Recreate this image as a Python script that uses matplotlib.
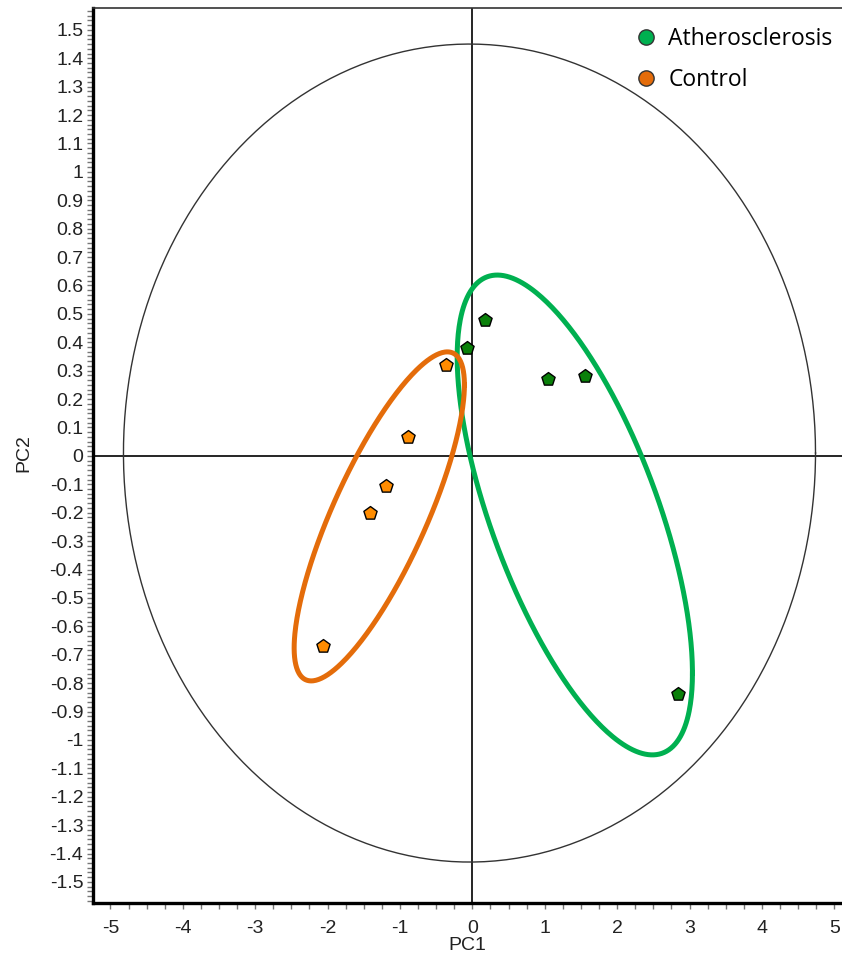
import numpy as np
import matplotlib
matplotlib.use("Agg")
import matplotlib.pyplot as plt
from matplotlib.ticker import MultipleLocator, FixedLocator
from matplotlib.lines import Line2D

# ---- data ----
athero_pc1 = [0.17, -0.07, 1.05, 1.56, 2.84]
athero_pc2 = [0.48, 0.38, 0.27, 0.28, -0.84]
control_pc1 = [-0.36, -0.89, -1.20, -1.41, -2.07]
control_pc2 = [0.32, 0.067, -0.106, -0.20, -0.67]

# ellipses: center, semi-axis vector u, semi-axis vector v (data units)
athero_ell_center = [1.415, -0.208]
athero_ell_u = [1.625, -0.557]
athero_ell_v = [0.0, -0.635]
control_ell_center = [-1.286, -0.213]
control_ell_u = [1.176, 0.463]
control_ell_v = [0.0, -0.348]
hotelling_center = [-0.04, 0.01]
hotelling_axes = [4.78, 1.44]

x_ticks = [-5, -4, -3, -2, -1, 0, 1, 2, 3, 4, 5]
y_ticks = [round(v, 1) for v in np.arange(-1.5, 1.51, 0.1)]
labels = ["Atherosclerosis", "Control"]

fig = plt.figure(figsize=(8.42, 9.61), dpi=100)
ax = fig.add_axes([0.1105, 0.0604, 0.889, 0.9313])
ax.set_xlim(-5.24, 5.1)
ax.set_ylim(-1.574, 1.577)

t = np.linspace(0, 2 * np.pi, 400)
ax.plot(hotelling_center[0] + hotelling_axes[0] * np.cos(t),
        hotelling_center[1] + hotelling_axes[1] * np.sin(t),
        color="#333333", lw=1.0, zorder=2)
ax.axhline(0, color="black", lw=1.2, zorder=1)
ax.axvline(0, color="black", lw=1.2, zorder=1)

def ell(c, u, v, color):
    xs = c[0] + u[0] * np.cos(t) + v[0] * np.sin(t)
    ys = c[1] + u[1] * np.cos(t) + v[1] * np.sin(t)
    ax.plot(xs, ys, color=color, lw=3.6, zorder=3)

ell(athero_ell_center, athero_ell_u, athero_ell_v, "#00B050")
ell(control_ell_center, control_ell_u, control_ell_v, "#E46C0A")

ax.scatter(athero_pc1, athero_pc2, marker="p", s=100, c="#0A800A",
           edgecolors="black", linewidths=1.0, zorder=4)
ax.scatter(control_pc1, control_pc2, marker="p", s=100, c="#FF8C00",
           edgecolors="black", linewidths=1.0, zorder=4)

ax.xaxis.set_major_locator(FixedLocator(x_ticks))
ax.set_xticklabels([str(v) for v in x_ticks])
ax.xaxis.set_minor_locator(MultipleLocator(0.25))
ax.yaxis.set_major_locator(FixedLocator(y_ticks))
ax.set_yticklabels([("0" if v == 0 else ("%g" % v)) for v in y_ticks])
ax.yaxis.set_minor_locator(MultipleLocator(1 / 60))

for lab in ax.get_xticklabels() + ax.get_yticklabels():
    lab.set_fontfamily("Liberation Sans")
    lab.set_fontsize(14)
    lab.set_color("#222222")
ax.tick_params(which="both", direction="out", length=4, width=1, color="#777777")
ax.tick_params(axis="x", pad=8)
ax.tick_params(axis="y", pad=3)

ax.spines["left"].set_linewidth(2.4)
ax.spines["bottom"].set_linewidth(2.4)
ax.spines["top"].set_linewidth(1.2)
ax.spines["top"].set_color("#333333")
ax.spines["right"].set_visible(False)

ax.set_xlabel("PC1", fontfamily="Liberation Sans", fontsize=14, color="#222222", labelpad=0)
ax.set_ylabel("PC2", fontfamily="Liberation Sans", fontsize=14, color="#222222")
ax.yaxis.set_label_coords(-0.0815, 0.503)

handles = [Line2D([], [], marker="o", ls="none", markersize=11, markerfacecolor="#00B050",
                  markeredgecolor="#333333", markeredgewidth=1.0),
           Line2D([], [], marker="o", ls="none", markersize=11, markerfacecolor="#E46C0A",
                  markeredgecolor="#333333", markeredgewidth=1.0)]
leg = ax.legend(handles, labels, loc="upper right", bbox_to_anchor=(1.0, 0.989),
                frameon=False, handlelength=1.0, handletextpad=0.45, labelspacing=0.76,
                prop={"family": "Open Sans", "size": 16.5}, borderaxespad=0.0)

fig.savefig("out.png", dpi=100)
